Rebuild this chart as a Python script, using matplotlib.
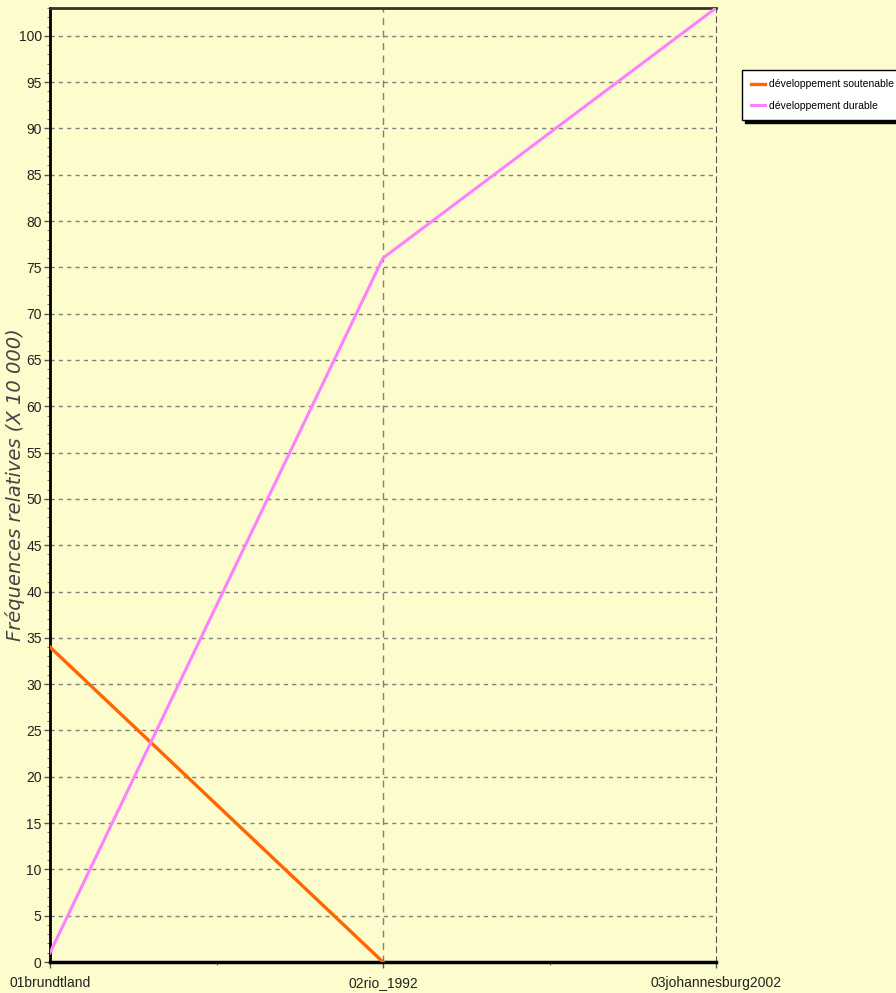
import numpy as np
import matplotlib
matplotlib.use('Agg')
import matplotlib.pyplot as plt
from matplotlib.ticker import MultipleLocator

# Data
categories = ['01brundtland', '02rio_1992', '03johannesburg2002']
soutenable = [34, 0, np.nan]
durable = [1, 76, 103]

bg = '#fcfccc'
narrow = ['Liberation Sans', 'DejaVu Sans']

fig = plt.figure(figsize=(8.96, 9.93), dpi=100, facecolor=bg)
ax = fig.add_axes([50 / 896, 1 - 962 / 993, 666 / 896, 954 / 993])
ax.set_facecolor(bg)

x = np.arange(len(categories))
ax.plot(x, soutenable, color='#ff6600', lw=2.4, label='développement soutenable', zorder=3)
ax.plot(x, durable, color='#ff80ff', lw=2.2, label='développement durable', zorder=3)

ax.set_xlim(0, 2)
ax.set_ylim(0, 103)
ax.set_xticks(x)
ax.set_xticklabels(categories, fontsize=10, family=narrow, color='#222222')
ax.xaxis.set_minor_locator(MultipleLocator(0.5))
ax.yaxis.set_major_locator(MultipleLocator(5))
ax.yaxis.set_minor_locator(MultipleLocator(1))
for lbl in ax.get_yticklabels():
    lbl.set_family(narrow)
    lbl.set_fontsize(10)
    lbl.set_color('#222222')
ax.tick_params(axis='both', which='major', length=4, color='#555555', width=1)
ax.tick_params(axis='both', which='minor', length=2, color='#555555')
ax.tick_params(axis='x', pad=6)
ax.tick_params(axis='y', pad=2)

ax.yaxis.grid(True, linestyle=(0, (3, 3)), color='#808080', lw=1)
ax.axvline(1, linestyle=(0, (5, 4)), color='#808080', lw=1)

ax.spines['left'].set_linewidth(2)
ax.spines['bottom'].set_linewidth(2.5)
ax.spines['top'].set_linewidth(2)
ax.spines['top'].set_color('#333333')
ax.spines['right'].set_linestyle((0, (5, 4)))
ax.spines['right'].set_color('#555555')

ax.set_ylabel('Fréquences relatives (X 10 000)', fontsize=14, style='italic',
              color='#444444', family='DejaVu Sans')
ax.yaxis.set_label_coords(-0.037, 0.5)

leg = fig.legend(loc='upper left', bbox_to_anchor=(742 / 896, 1 - 70 / 993),
                 prop={'family': narrow, 'size': 7.5}, fancybox=False,
                 shadow={'color': 'black', 'alpha': 1},
                 edgecolor='black', facecolor='white', framealpha=1,
                 handlelength=1.3, borderpad=0.9, labelspacing=1.1,
                 handletextpad=0.4, borderaxespad=0)
leg.get_frame().set_linewidth(1)

fig.savefig('out.png', dpi=100, facecolor=bg)
